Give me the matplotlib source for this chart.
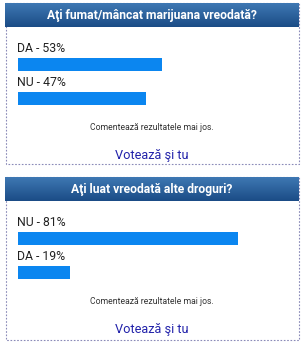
import matplotlib
matplotlib.use("Agg")
import matplotlib.pyplot as plt
import numpy as np
from matplotlib.patches import Rectangle
from matplotlib.colors import LinearSegmentedColormap

plt.rcParams['font.family'] = ['Roboto', 'DejaVu Sans']

titles = ["Aţi fumat/mâncat marijuana vreodată?", "Aţi luat vreodată alte droguri?"]
answers = [["DA", "NU"], ["NU", "DA"]]
percents = [[53, 47], [81, 19]]
comment = "Comentează rezultatele mai jos."
vote = "Votează şi tu"

W, H = 305, 344
fig = plt.figure(figsize=(W / 100, H / 100), dpi=100)
bg = fig.add_axes([0, 0, 1, 1])
bg.set_xlim(0, W)
bg.set_ylim(H, 0)
bg.axis('off')

panel_top = [3, 177]
panel_bottom = [164, 340]
header_h = 24
bar_color = "#0b86f0"

grad = np.linspace(0, 1, 50).reshape(-1, 1)
cmap = LinearSegmentedColormap.from_list("hdr", ["#3e78b3", "#1b4c86"])

for i in range(2):
    top = panel_top[i]
    bot = panel_bottom[i]
    bg.add_patch(Rectangle((5.5, top), 293, bot - top, fill=False,
                           edgecolor="#8a8ab8", lw=0.8, ls=(0, (1.5, 1.5))))
    bg.imshow(grad, cmap=cmap, aspect='auto',
              extent=(5, 299, top + header_h, top), zorder=2)
    bg.text(152, top + header_h / 2 + 0.5, titles[i], color="white", fontsize=8.7,
            fontweight='bold', ha='center', va='center', zorder=3)
    label_y = [top + 45, top + 79]
    for j in range(2):
        bg.text(17, label_y[j], f"{answers[i][j]} - {percents[i][j]}%", fontsize=8.8,
                color="#222222", ha='left', va='center')
    bg.text(152, top + 124, comment, fontsize=6.2, color="#333333",
            ha='center', va='center')
    bg.text(152, top + 153, vote, fontsize=9.2, color="#2222aa",
            ha='center', va='center')

    bar_top = top + 55
    bar_bot = top + 102
    ax = fig.add_axes([18 / W, 1 - bar_bot / H, 272 / W, (bar_bot - bar_top) / H])
    h = 13 / 34
    ax.barh([0, 1], percents[i], height=h, color=bar_color, left=0)
    ax.set_xlim(0, 100)
    ax.set_ylim(1 + h / 2, -h / 2)
    ax.axis('off')

fig.savefig("out.png", dpi=100)
